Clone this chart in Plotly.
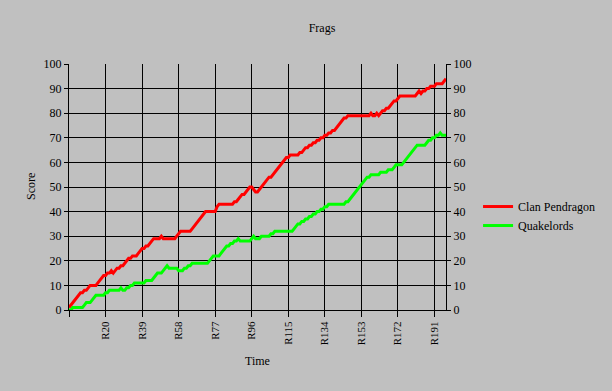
import plotly.graph_objects as go

# ---- data ----
clan_pendragon = [
    1, 2, 3, 4, 5, 6, 7, 7, 8, 8,
    9, 10, 10, 10, 10, 11, 12, 13, 14, 14,
    15, 15, 16, 15, 16, 17, 17, 18, 18, 19,
    20, 21, 21, 22, 22, 22, 23, 24, 25, 25,
    26, 26, 27, 28, 29, 29, 29, 29, 30, 29,
    29, 29, 29, 29, 29, 29, 30, 31, 32, 32,
    32, 32, 32, 32, 33, 34, 35, 36, 37, 38,
    39, 40, 40, 40, 40, 40, 40, 42, 43, 43,
    43, 43, 43, 43, 43, 43, 44, 44, 45, 46,
    47, 47, 48, 49, 50, 50, 49, 48, 48, 49,
    50, 51, 52, 53, 54, 54, 55, 56, 57, 58,
    59, 60, 61, 62, 62, 63, 63, 63, 63, 63,
    64, 64, 65, 66, 66, 67, 67, 68, 68, 69,
    69, 70, 70, 71, 71, 72, 72, 73, 73, 74,
    75, 76, 77, 78, 78, 79, 79, 79, 79, 79,
    79, 79, 79, 79, 79, 79, 79, 80, 79, 79,
    80, 79, 80, 81, 81, 82, 82, 83, 84, 85,
    85, 86, 87, 87, 87, 87, 87, 87, 87, 87,
    87, 88, 89, 88, 89, 89, 90, 90, 91, 91,
    91, 92, 92, 92, 92, 93, 94,
]

quakelords = [
    0, 0, 1, 1, 1, 1, 1, 1, 2, 3,
    3, 3, 4, 5, 6, 6, 6, 6, 6, 7,
    7, 8, 8, 8, 8, 8, 8, 9, 8, 8,
    9, 9, 10, 10, 11, 11, 11, 11, 11, 11,
    12, 12, 12, 12, 13, 14, 15, 15, 15, 16,
    17, 18, 17, 17, 17, 17, 17, 16, 16, 16,
    17, 17, 18, 18, 19, 19, 19, 19, 19, 19,
    19, 19, 19, 20, 21, 22, 22, 22, 22, 23,
    24, 25, 26, 26, 27, 27, 28, 28, 29, 28,
    28, 28, 28, 28, 28, 29, 30, 29, 29, 29,
    30, 30, 30, 30, 30, 31, 31, 32, 32, 32,
    32, 32, 32, 32, 32, 32, 32, 33, 34, 35,
    35, 36, 36, 37, 37, 38, 38, 39, 39, 40,
    40, 41, 41, 42, 42, 43, 43, 43, 43, 43,
    43, 43, 43, 43, 44, 44, 45, 46, 47, 48,
    49, 50, 51, 52, 53, 54, 54, 55, 55, 55,
    55, 55, 56, 56, 56, 56, 57, 57, 57, 58,
    59, 59, 59, 59, 60, 61, 62, 63, 64, 65,
    66, 67, 67, 67, 67, 67, 68, 69, 69, 70,
    70, 71, 71, 72, 71, 71, 71,
]

rounds = ["R%d" % (i + 1) for i in range(len(clan_pendragon))]
x_tick_vals = ["R1", "R20", "R39", "R58", "R77", "R96", "R115", "R134", "R153", "R172", "R191"]
x_tick_text = ["", "R20", "R39", "R58", "R77", "R96", "R115", "R134", "R153", "R172", "R191"]

FONT = "Liberation Serif, Times New Roman, serif"
BG = "#C0C0C0"

fig = go.Figure()
fig.add_trace(go.Scatter(x=rounds, y=clan_pendragon, mode="lines", name="Clan Pendragon",
                         line=dict(color="#FF0000", width=3)))
fig.add_trace(go.Scatter(x=rounds, y=quakelords, mode="lines", name="Quakelords",
                         line=dict(color="#00FF00", width=3)))
# empty helper trace so the secondary (right) score axis is drawn
fig.add_trace(go.Scatter(x=[rounds[0]], y=[None], yaxis="y2", mode="lines",
                         showlegend=False, hoverinfo="skip"))

axis_common = dict(tickfont=dict(family=FONT, size=12, color="black"))

fig.update_layout(
    width=612, height=391,
    margin=dict(l=69, r=156, t=64, b=81),
    paper_bgcolor=BG, plot_bgcolor=BG,
    font=dict(family=FONT, size=12, color="black"),
    title=dict(text="Frags", x=322 / 612, xref="container", xanchor="center",
               y=1 - 28 / 391, yref="container", yanchor="middle",
               font=dict(family=FONT, size=12, color="black")),
    xaxis=dict(type="category", range=[0, len(rounds) - 1],
               tickmode="array", tickvals=x_tick_vals, ticktext=x_tick_text,
               tickangle=-90, ticks="outside", ticklen=6, tickcolor="black",
               showgrid=True, gridcolor="black", gridwidth=1,
               showline=True, linecolor="black", linewidth=1, zeroline=False,
               tickfont=dict(family=FONT, size=11, color="black")),
    yaxis=dict(range=[0, 100], dtick=10, tick0=0, ticks="outside", ticklen=4, tickcolor="black",
               showgrid=True, gridcolor="black", gridwidth=1,
               showline=True, linecolor="black", linewidth=1, zeroline=False,
               **axis_common),
    yaxis2=dict(overlaying="y", side="right", range=[0, 100], dtick=10, tick0=0,
                ticks="outside", ticklen=4, tickcolor="black", showgrid=False,
                showline=True, linecolor="black", linewidth=1, zeroline=False,
                **axis_common),
    legend=dict(x=1.085, y=0.382, xanchor="left", yanchor="middle",
                bgcolor="rgba(0,0,0,0)", font=dict(family=FONT, size=12, color="black"),
                tracegroupgap=0),
    showlegend=True,
    annotations=[
        dict(text="Score", xref="paper", yref="paper", x=(30 - 69) / 387, y=0.5,
             textangle=-90, showarrow=False, xanchor="center", yanchor="middle",
             font=dict(family=FONT, size=12, color="black")),
        dict(text="Time", xref="paper", yref="paper", x=(263 - 69) / 387, y=(310 - 361) / 246,
             showarrow=False, xanchor="center", yanchor="middle",
             font=dict(family=FONT, size=12, color="black")),
    ],
)

fig.write_html("out.html")
